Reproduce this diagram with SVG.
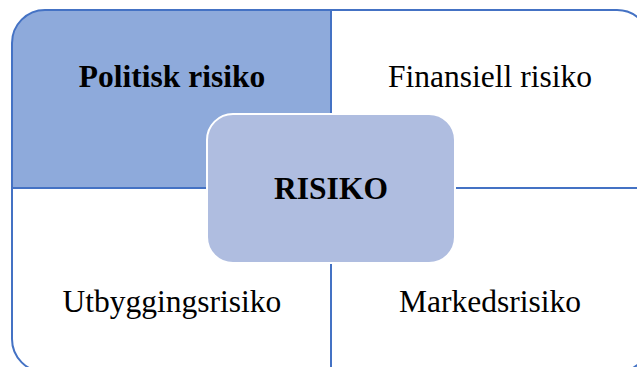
<svg xmlns="http://www.w3.org/2000/svg" width="637" height="367" viewBox="0 0 637 367">
<style>
.q{fill:#ffffff;stroke:none}
.line{stroke:#4472C4;stroke-width:2;fill:none}
.t{font-family:"Liberation Serif","Times New Roman",serif;font-size:31.5px;fill:#000;text-anchor:middle}
.b{font-weight:bold}
</style>
<rect x="0" y="0" width="637" height="367" fill="#ffffff"/>
<g id="quadrant-politisk">
<path d="M331,10 L45,10 A33,33 0 0 0 12,43 L12,188 L331,188 Z" fill="#8EAADB"/>
<text class="t b" x="172" y="87">Politisk risiko</text>
</g>
<g id="quadrant-finansiell">
<text class="t" x="490" y="87">Finansiell risiko</text>
</g>
<g id="quadrant-utbygging">
<text class="t" x="172" y="312">Utbyggingsrisiko</text>
</g>
<g id="quadrant-markeds">
<text class="t" x="490" y="312">Markedsrisiko</text>
</g>
<g id="connectors">
<rect class="line" x="12" y="10" width="638" height="362" rx="33" ry="33"/>
<line class="line" x1="331" y1="10" x2="331" y2="372"/>
<line class="line" x1="12" y1="188" x2="650" y2="188"/>
</g>
<g id="center-risiko">
<rect x="207" y="114" width="248" height="149" rx="26" ry="26" fill="#AFBDE0" stroke="#ffffff" stroke-width="2"/>
<text class="t b" x="331" y="199">RISIKO</text>
</g>
</svg>
